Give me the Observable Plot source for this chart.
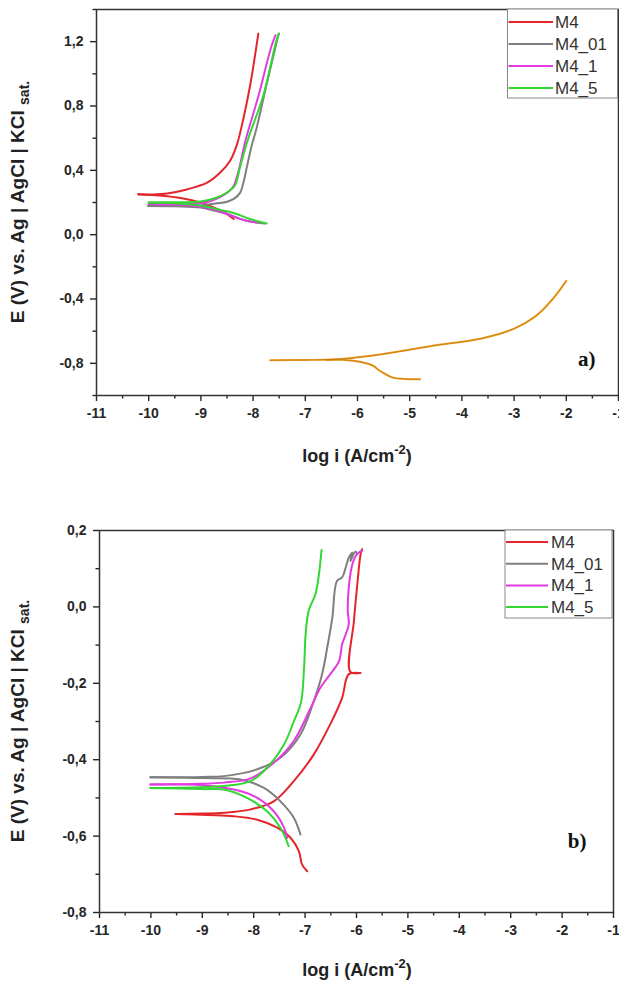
<!DOCTYPE html>
<html><head><meta charset="utf-8">
<script src="https://cdn.jsdelivr.net/npm/d3@7"></script>
<script src="https://cdn.jsdelivr.net/npm/@observablehq/plot@0.6"></script>
<style>
body{margin:0;background:#fff;}
#chart{width:619px;height:983px;position:relative;overflow:hidden;background:#fff;}
#chart svg{display:block;overflow:visible;}
</style></head><body><div id="chart"></div>
<script>
// ---- categories / legend ----
const seriesNames = ["M4", "M4_01", "M4_1", "M4_5"];
const seriesColors = ["#e3262b", "#7f7f7f", "#e23be2", "#33d633"];
const extraName = "unlabelled";
const extraColor = "#f2a01c";
const extraCore = "#b8741a";

// ---- tick labels ----
const xTicks = [-11, -10, -9, -8, -7, -6, -5, -4, -3, -2, -1];
const xMinor = [-10.5, -9.5, -8.5, -7.5, -6.5, -5.5, -4.5, -3.5, -2.5, -1.5];
const aYTicks = [-0.8, -0.4, 0.0, 0.4, 0.8, 1.2];
const aYMinor = [-1.0, -0.6, -0.2, 0.2, 0.6, 1.0, 1.4];
const bYTicks = [-0.8, -0.6, -0.4, -0.2, 0.0, 0.2];
const bYMinor = [-0.7, -0.5, -0.3, -0.1, 0.1];

// ---- panel a) values [log i, E] ----
const aM4Anodic = [[-10.20,0.252],[-9.90,0.250],[-9.65,0.256],[-9.27,0.281],[-8.88,0.323],[-8.63,0.386],[-8.44,0.46],[-8.31,0.56],[-8.18,0.73],[-8.05,0.94],[-7.97,1.10],[-7.90,1.25]];
const aM4Cathodic = [[-10.20,0.252],[-9.80,0.243],[-9.39,0.228],[-9.01,0.200],[-8.69,0.160],[-8.50,0.128],[-8.37,0.097]];
const aM401Anodic = [[-10.01,0.178],[-9.50,0.178],[-9.00,0.182],[-8.76,0.192],[-8.50,0.205],[-8.37,0.222],[-8.25,0.26],[-8.18,0.33],[-8.12,0.42],[-8.03,0.55],[-7.93,0.667],[-7.74,0.937],[-7.62,1.10],[-7.51,1.25]];
const aM401Cathodic = [[-10.01,0.178],[-9.50,0.176],[-9.01,0.169],[-8.75,0.150],[-8.50,0.128],[-8.12,0.086],[-7.77,0.070]];
const aM41Anodic = [[-10.00,0.190],[-9.50,0.190],[-9.01,0.195],[-8.69,0.225],[-8.40,0.290],[-8.30,0.370],[-8.15,0.58],[-7.90,0.86],[-7.65,1.17],[-7.57,1.24]];
const aM41Cathodic = [[-10.00,0.190],[-9.50,0.186],[-9.01,0.175],[-8.57,0.138],[-8.25,0.098],[-8.06,0.082],[-7.93,0.076]];
const aM45Anodic = [[-10.00,0.200],[-9.50,0.202],[-9.01,0.206],[-8.69,0.231],[-8.50,0.262],[-8.35,0.304],[-8.25,0.42],[-8.10,0.59],[-7.80,0.87],[-7.55,1.21],[-7.50,1.25]];
const aM45Cathodic = [[-10.00,0.200],[-9.50,0.195],[-9.01,0.182],[-8.69,0.158],[-8.37,0.135],[-8.06,0.097],[-7.74,0.070]];
const aExtraAnodic = [[-7.67,-0.781],[-7.00,-0.779],[-6.50,-0.776],[-6.14,-0.768],[-5.54,-0.744],[-4.58,-0.692],[-3.62,-0.645],[-2.99,-0.583],[-2.58,-0.505],[-2.26,-0.40],[-2.00,-0.287]];
const aExtraCathodic = [[-6.60,-0.779],[-6.30,-0.778],[-5.89,-0.795],[-5.70,-0.815],[-5.57,-0.847],[-5.32,-0.889],[-5.10,-0.897],[-4.80,-0.899]];

// ---- panel b) values [log i, E] ----
const bM4Anodic = [[-9.52,-0.542],[-9.00,-0.541],[-8.58,-0.539],[-8.06,-0.530],[-7.61,-0.509],[-7.22,-0.456],[-6.83,-0.386],[-6.51,-0.307],[-6.28,-0.238],[-6.15,-0.176],[-5.92,-0.173],[-6.12,-0.170],[-6.05,-0.037],[-5.99,0.051],[-5.92,0.138],[-5.89,0.151]];
const bM4Cathodic = [[-9.52,-0.542],[-8.90,-0.545],[-8.39,-0.548],[-7.93,-0.557],[-7.54,-0.578],[-7.28,-0.605],[-7.12,-0.640],[-7.06,-0.674],[-6.96,-0.692]];
const bM401Anodic = [[-10.01,-0.446],[-9.00,-0.445],[-8.58,-0.443],[-7.93,-0.425],[-7.48,-0.395],[-7.09,-0.334],[-6.83,-0.246],[-6.67,-0.176],[-6.57,-0.107],[-6.47,-0.028],[-6.38,0.068],[-6.28,0.077],[-6.21,0.103],[-6.15,0.129],[-6.08,0.142],[-6.12,0.120],[-6.02,0.145],[-5.99,0.138]];
const bM401Cathodic = [[-10.01,-0.446],[-9.00,-0.448],[-8.26,-0.452],[-7.80,-0.474],[-7.48,-0.509],[-7.22,-0.552],[-7.09,-0.596]];
const bM41Anodic = [[-10.01,-0.465],[-9.00,-0.463],[-8.58,-0.460],[-8.06,-0.449],[-7.61,-0.408],[-7.22,-0.351],[-6.89,-0.264],[-6.70,-0.211],[-6.51,-0.176],[-6.34,-0.142],[-6.28,-0.098],[-6.21,-0.072],[-6.15,-0.045],[-6.17,-0.010],[-6.15,0.051],[-6.08,0.112],[-5.99,0.138],[-5.89,0.147]];
const bM41Cathodic = [[-10.01,-0.465],[-9.00,-0.467],[-8.26,-0.482],[-7.93,-0.500],[-7.61,-0.535],[-7.41,-0.578],[-7.35,-0.605]];
const bM45Anodic = [[-10.01,-0.474],[-9.00,-0.472],[-8.58,-0.469],[-8.06,-0.456],[-7.74,-0.421],[-7.41,-0.36],[-7.22,-0.30],[-7.08,-0.25],[-7.02,-0.159],[-6.99,-0.072],[-6.93,-0.010],[-6.80,0.033],[-6.73,0.086],[-6.68,0.149]];
const bM45Cathodic = [[-10.01,-0.474],[-9.00,-0.477],[-8.58,-0.478],[-8.13,-0.500],[-7.74,-0.535],[-7.48,-0.578],[-7.32,-0.626]];

function rows(series, branch, pts) {
  return pts.map(([x, y]) => ({x, y, series, key: series + "-" + branch}));
}

const aData = [
  ...rows("M4", "an", aM4Anodic), ...rows("M4", "cat", aM4Cathodic),
  ...rows("M4_01", "an", aM401Anodic), ...rows("M4_01", "cat", aM401Cathodic),
  ...rows("M4_1", "an", aM41Anodic), ...rows("M4_1", "cat", aM41Cathodic),
  ...rows("M4_5", "an", aM45Anodic), ...rows("M4_5", "cat", aM45Cathodic),
  ...rows(extraName, "an", aExtraAnodic), ...rows(extraName, "cat", aExtraCathodic)
];
const bData = [
  ...rows("M4", "an", bM4Anodic), ...rows("M4", "cat", bM4Cathodic),
  ...rows("M4_01", "an", bM401Anodic), ...rows("M4_01", "cat", bM401Cathodic),
  ...rows("M4_1", "an", bM41Anodic), ...rows("M4_1", "cat", bM41Cathodic),
  ...rows("M4_5", "an", bM45Anodic), ...rows("M4_5", "cat", bM45Cathodic)
];

const sans = "'Liberation Sans', Arial, Helvetica, sans-serif";
const fmtComma = d => d.toFixed(1).replace(".", ",");
const drawOrder = [extraName, "M4", "M4_01", "M4_1", "M4_5"];

function panel(cfg) {
  const data = cfg.data.slice().sort((a, b) => drawOrder.indexOf(a.series) - drawOrder.indexOf(b.series));
  const extra = data.filter(d => d.series === extraName);
  const svg = Plot.plot({
    width: 619, height: cfg.height,
    marginTop: cfg.mt, marginRight: cfg.mr, marginBottom: cfg.mb, marginLeft: cfg.ml,
    style: {fontFamily: sans, fontSize: "14px", fontWeight: "bold", color: "#262626", background: "white", overflow: "visible"},
    x: {domain: [-11, -1]},
    y: {domain: cfg.yDomain},
    color: {domain: [...seriesNames, extraName], range: [...seriesColors, extraColor]},
    marks: [
      Plot.axisX({ticks: xMinor, tickSize: 3.5, tickFormat: () => "", strokeWidth: 1.4, label: null}),
      Plot.axisX({ticks: xTicks, tickSize: 6, tickPadding: 7, tickFormat: d => String(d), strokeWidth: 1.4, label: null}),
      Plot.axisY({ticks: cfg.yMinor, tickSize: 3.5, tickFormat: () => "", strokeWidth: 1.4, label: null}),
      Plot.axisY({ticks: cfg.yTicks, tickSize: 6, tickPadding: 7, tickFormat: fmtComma, strokeWidth: 1.4, label: null}),
      Plot.line(data, {x: "x", y: "y", z: "key", stroke: "series", strokeWidth: 2, curve: "catmull-rom"}),
      Plot.line(extra, {x: "x", y: "y", z: "key", stroke: extraCore, strokeWidth: 0.7, curve: "catmull-rom"}),
      Plot.frame({stroke: "#333", strokeWidth: 1.5}),
      Plot.text([cfg.tag], {frameAnchor: "bottom-right", textAnchor: "end", lineAnchor: "bottom", dx: cfg.tagDx, dy: cfg.tagDy,
        fontFamily: "'Liberation Serif', 'Times New Roman', serif", fontSize: 21, fontWeight: "bold", fill: "#111"})
    ]
  });
  const s = d3.select(svg);
  // x label
  const xl = s.append("text").attr("x", cfg.xlX).attr("y", cfg.xlY).attr("text-anchor", "middle")
    .attr("font-family", sans).attr("font-weight", "bold").attr("font-size", 18).attr("fill", "#222");
  xl.append("tspan").text("log i (A/cm");
  xl.append("tspan").attr("dy", -8).attr("font-size", 13).text("-2");
  xl.append("tspan").attr("dy", 8).text(")");
  // y label
  const yl = s.append("text").attr("transform", `translate(${cfg.ylX},${cfg.ylY}) rotate(-90)`).attr("text-anchor", "middle")
    .attr("font-family", sans).attr("font-weight", "bold").attr("font-size", 19).attr("fill", "#222");
  yl.append("tspan").text("E (V) vs. Ag | AgCl | KCl ");
  yl.append("tspan").attr("dy", 5).attr("font-size", 14).text("sat.");
  // legend
  const L = cfg.legend;
  const g = s.append("g").attr("text-anchor", "start");
  g.append("rect").attr("x", L.x).attr("y", L.y).attr("width", L.w).attr("height", L.h)
    .attr("fill", "white").attr("stroke", "#8a8a8a").attr("stroke-width", 1);
  seriesNames.forEach((name, i) => {
    const yy = L.y0 + i * L.dy;
    g.append("line").attr("x1", L.x + 1).attr("x2", L.lineEnd).attr("y1", yy).attr("y2", yy)
      .attr("stroke", seriesColors[i]).attr("stroke-width", 2);
    g.append("text").attr("x", L.textX).attr("y", yy + 6).attr("text-anchor", "start")
      .attr("font-family", sans).attr("font-size", 17)
      .attr("font-weight", "normal").attr("fill", "#333").text(name);
  });
  return svg;
}

const chart = document.getElementById("chart");
chart.appendChild(panel({
  data: aData, height: 480, mt: 9, mr: 1, mb: 85, ml: 96,
  yDomain: [-1.0, 1.4], yTicks: aYTicks, yMinor: aYMinor,
  tag: "a)", tagDx: -23, tagDy: -30,
  xlX: 357, xlY: 462, ylX: 24, ylY: 202,
  legend: {x: 507.5, y: 9, w: 110, h: 89, y0: 22, dy: 22, lineEnd: 553, textX: 555}
}));
chart.appendChild(panel({
  data: bData, height: 503, mt: 50, mr: 6, mb: 71, ml: 99,
  yDomain: [-0.8, 0.2], yTicks: bYTicks, yMinor: bYMinor,
  tag: "b)", tagDx: -27, tagDy: -65,
  xlX: 357, xlY: 496, ylX: 24, ylY: 241,
  legend: {x: 505, y: 50, w: 107, h: 88, y0: 62, dy: 21.7, lineEnd: 548, textX: 551}
}));
</script></body></html>
